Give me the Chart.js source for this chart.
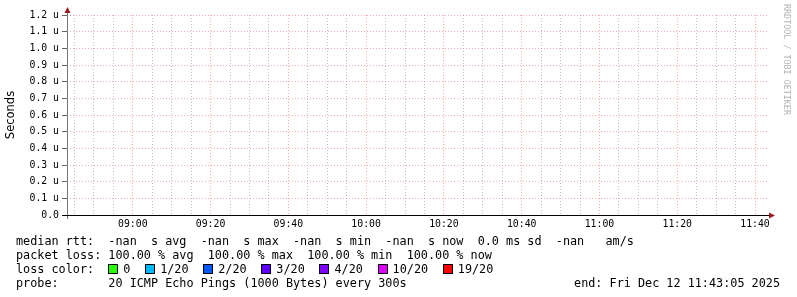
<!DOCTYPE html>
<html><head><meta charset="utf-8">
<script src="https://cdn.jsdelivr.net/npm/chart.js@4/dist/chart.umd.min.js"></script>
<style>
body{margin:0;background:#fff;}
#wrap{position:relative;width:797px;height:297px;overflow:hidden;background:#fff;}
canvas{position:absolute;left:0;top:0;}
.lg{position:absolute;left:16px;font-family:'DejaVu Sans Mono',monospace;font-size:11.8px;line-height:14px;white-space:pre;color:#000;}
.box{display:inline-block;box-sizing:border-box;width:10px;height:10px;border:1px solid #000;vertical-align:-1px;margin-right:5px;}
.it{margin-right:14.7px;}
#end{position:absolute;right:17px;top:276px;font-family:'DejaVu Sans Mono',monospace;font-size:11.8px;line-height:14px;white-space:pre;color:#000;}
</style></head><body>
<div id="wrap">
<canvas id="c" width="797" height="297"></canvas>
<div class="lg" style="top:234px">median rtt:  -nan  s avg  -nan  s max  -nan  s min  -nan  s now  0.0 ms sd  -nan   am/s</div>
<div class="lg" style="top:248px">packet loss: 100.00 % avg  100.00 % max  100.00 % min  100.00 % now</div>
<div class="lg" style="top:262px" id="losses">loss color:  </div>
<div class="lg" style="top:276px">probe:       20 ICMP Echo Pings (1000 Bytes) every 300s</div>
<div id="end">end: Fri Dec 12 11:43:05 2025</div>
</div>
<script>
// ---- data ----
const graphStart = '08:43:05';
const graphEnd = '11:43:05';
const xTickLabels = ['09:00','09:20','09:40','10:00','10:20','10:40','11:00','11:20','11:40'];
const yTickValues = [0,0.1,0.2,0.3,0.4,0.5,0.6,0.7,0.8,0.9,1.0,1.1,1.2];
const yTickLabels = ['0.0','0.1 u','0.2 u','0.3 u','0.4 u','0.5 u','0.6 u','0.7 u','0.8 u','0.9 u','1.0 u','1.1 u','1.2 u'];
const probeTimes = ['08:45','08:50','08:55','09:00','09:05','09:10','09:15','09:20','09:25','09:30','09:35','09:40',
                    '09:45','09:50','09:55','10:00','10:05','10:10','10:15','10:20','10:25','10:30','10:35','10:40',
                    '10:45','10:50','10:55','11:00','11:05','11:10','11:15','11:20','11:25','11:30','11:35','11:40'];
// every probe lost (100 % loss): median rtt is NaN everywhere
const medianRtt = [null,null,null,null,null,null,null,null,null,null,null,null,
                   null,null,null,null,null,null,null,null,null,null,null,null,
                   null,null,null,null,null,null,null,null,null,null,null,null];
const lossLabels = ['0','1/20','2/20','3/20','4/20','10/20','19/20'];
const lossColors = ['#26ff00','#00b8ff','#0059ff','#5e00ff','#7e00ff','#dd00ff','#ff0000'];
const yTitle = 'Seconds';
const watermark = 'RRDTOOL / TOBI OETIKER';

// ---- loss color legend ----
const lossEl = document.getElementById('losses');
lossLabels.forEach((lab, i) => {
  const b = document.createElement('span'); b.className = 'box'; b.style.background = lossColors[i];
  const t = document.createElement('span'); t.className = 'it'; t.textContent = lab;
  lossEl.appendChild(b); lossEl.appendChild(t);
});

// ---- chart ----
const toMin = s => { const p = s.split(':').map(Number); return p[0]*60 + p[1] + (p[2]||0)/60; };
const xMin = toMin(graphStart), xMax = toMin(graphEnd);
const majorSet = new Set(xTickLabels.map(toMin));
const minorTicks = [];
for (let m = Math.ceil(xMin/5)*5; m <= xMax; m += 5) minorTicks.push(m);
const pad2 = n => String(n).padStart(2,'0');
const fmt = m => pad2(Math.floor(m/60)) + ':' + pad2(Math.round(m%60));

const axesPlugin = {
  id: 'rrdAxes',
  afterDraw(chart) {
    const {ctx, chartArea: a} = chart;
    ctx.save();
    // y axis
    ctx.strokeStyle = '#777'; ctx.lineWidth = 1;
    ctx.beginPath(); ctx.moveTo(a.left + 0.5, a.bottom + 4); ctx.lineTo(a.left + 0.5, a.top - 4); ctx.stroke();
    ctx.fillStyle = '#9a1c1c';
    ctx.beginPath(); ctx.moveTo(a.left + 0.5, a.top - 8); ctx.lineTo(a.left - 2.5, a.top - 2); ctx.lineTo(a.left + 3.5, a.top - 2); ctx.closePath(); ctx.fill();
    // x axis
    ctx.strokeStyle = '#000';
    ctx.beginPath(); ctx.moveTo(a.left - 5, a.bottom + 0.5); ctx.lineTo(a.right + 3, a.bottom + 0.5); ctx.stroke();
    ctx.beginPath(); ctx.moveTo(a.right + 8, a.bottom + 0.5); ctx.lineTo(a.right + 2, a.bottom - 2.5); ctx.lineTo(a.right + 2, a.bottom + 3.5); ctx.closePath(); ctx.fill();
    // watermark
    ctx.translate(786, 4); ctx.rotate(Math.PI/2);
    ctx.font = '8.4px "DejaVu Sans Mono"'; ctx.fillStyle = '#b4b4b4'; ctx.textBaseline = 'middle'; ctx.textAlign = 'left';
    ctx.fillText(watermark, 0, 0);
    ctx.restore();
  }
};

new Chart(document.getElementById('c'), {
  type: 'line',
  data: { datasets: [{ label: 'median rtt', data: probeTimes.map((t,i) => ({x: toMin(t), y: medianRtt[i]})),
                       borderColor: lossColors[0], pointRadius: 0, borderWidth: 1, spanGaps: false }] },
  options: {
    responsive: false, animation: false, devicePixelRatio: 1,
    layout: { padding: { top: 15, right: 30, left: 0, bottom: 0 } },
    plugins: { legend: { display: false }, tooltip: { enabled: false } },
    scales: {
      x: {
        type: 'linear', min: xMin, max: xMax,
        afterBuildTicks: s => { s.ticks = minorTicks.map(v => ({value: v})); },
        afterFit: s => { s.height = 82; },
        border: { display: false, dash: [1, 2] },
        grid: { drawTicks: false,
                color: c => (c.tick && majorSet.has(c.tick.value)) ? 'rgba(225,60,60,0.42)' : 'rgba(150,150,150,0.6)' },
        ticks: { autoSkip: false, maxRotation: 0, minRotation: 0, padding: 4, color: '#000',
                 font: { family: 'DejaVu Sans Mono', size: 9.8 },
                 callback: v => majorSet.has(v) ? fmt(v) : '' }
      },
      y: {
        min: 0, max: 1.2,
        afterBuildTicks: s => { s.ticks = yTickValues.map(v => ({value: v})); },
        afterFit: s => { s.width = 67; },
        border: { display: false, dash: [1, 2] },
        title: { display: true, text: yTitle, color: '#000', padding: { top: 4, bottom: 0 },
                 font: { family: 'DejaVu Sans', size: 11.5 } },
        grid: { drawTicks: true, tickLength: 5, tickColor: '#666', tickBorderDash: [],
                color: c => (c.tick && c.tick.value > 0) ? 'rgba(225,60,60,0.42)' : 'rgba(0,0,0,0)' },
        ticks: { padding: 3, color: '#000', font: { family: 'DejaVu Sans Mono', size: 9.8 },
                 callback: (v, i) => yTickLabels[i] }
      }
    }
  },
  plugins: [axesPlugin]
});
</script>
</body></html>
